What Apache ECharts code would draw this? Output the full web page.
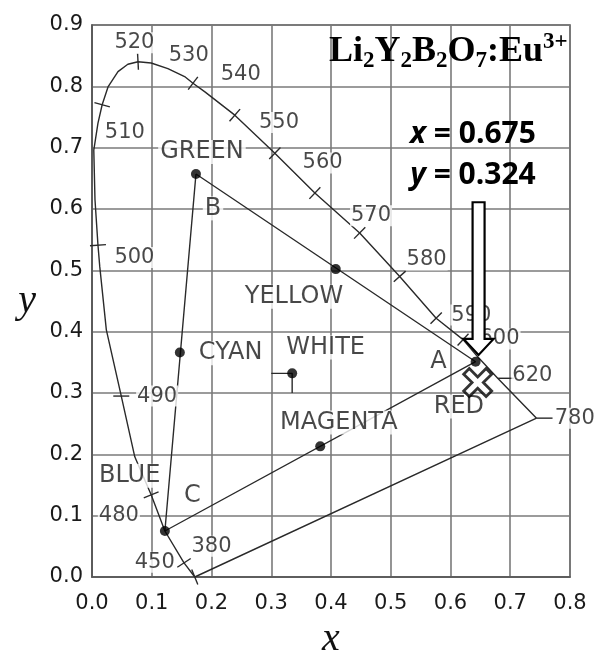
<!DOCTYPE html>
<html><head><meta charset="utf-8">
<script src="https://cdn.jsdelivr.net/npm/echarts@6/dist/echarts.min.js"></script>
<style>html,body{margin:0;padding:0;background:#fff}#c{width:603px;height:650px}</style>
</head><body><div id="c"></div><script>
// ---- tick labels ----
const X_TICK_LABELS = ['0.0','0.1','0.2','0.3','0.4','0.5','0.6','0.7','0.8'];
const Y_TICK_LABELS = ['0.0','0.1','0.2','0.3','0.4','0.5','0.6','0.7','0.8','0.9'];

// ---- spectral locus as drawn (380 nm -> 780 nm) ----
const LOCUS_X = [0.172,0.154,0.122,0.099,0.0716,0.049,0.024,0.013,0.010,0.005,0.003,0.010,0.017,0.0268,0.0435,0.060,0.077,0.099,0.127,0.155,0.169,0.189,0.239,0.306,0.373,0.448,0.515,0.576,0.621,0.6455,0.679,0.744];
const LOCUS_Y = [0.000,0.023,0.075,0.134,0.196,0.295,0.403,0.506,0.541,0.615,0.696,0.740,0.770,0.799,0.824,0.836,0.840,0.838,0.829,0.816,0.805,0.791,0.753,0.691,0.626,0.561,0.490,0.422,0.387,0.359,0.324,0.259];

// ---- wavelength marks on the locus ----
const TICK_WAVELENGTHS = [380,450,480,490,500,510,520,530,540,550,560,570,580,590,600,620,780];
const TICK_X = [0.172,0.154,0.099,0.049,0.010,0.017,0.077,0.169,0.239,0.306,0.373,0.448,0.515,0.576,0.621,0.679,0.744];
const TICK_Y = [0.000,0.023,0.134,0.295,0.541,0.770,0.840,0.805,0.753,0.691,0.626,0.561,0.490,0.422,0.387,0.324,0.259];
const WL_LABEL_X = [0.200,0.105,0.045,0.109,0.071,0.055,0.071,0.162,0.249,0.313,0.386,0.467,0.560,0.635,0.682,0.737,0.808];
const WL_LABEL_Y = [0.050,0.024,0.100,0.295,0.521,0.725,0.871,0.851,0.820,0.741,0.675,0.589,0.517,0.427,0.388,0.328,0.259];

// ---- colour points ----
const POINT_NAMES = ['GREEN','YELLOW','CYAN','WHITE','MAGENTA','A','BLUE'];
const POINT_X = [0.174,0.408,0.147,0.335,0.382,0.642,0.122];
const POINT_Y = [0.657,0.502,0.366,0.332,0.213,0.351,0.075];
const TRIANGLE = ['GREEN','A','BLUE','GREEN'];

// ---- region labels ----
const REGION_LABELS = ['GREEN','B','YELLOW','CYAN','WHITE','MAGENTA','A','RED','BLUE','C'];
const REGION_LABEL_X = [0.184,0.2025,0.338,0.232,0.391,0.413,0.580,0.614,0.063,0.168];
const REGION_LABEL_Y = [0.693,0.601,0.457,0.365,0.374,0.252,0.351,0.278,0.165,0.133];

// ---- sample (Li2Y2B2O7:Eu3+) ----
const SAMPLE_X = 0.6455, SAMPLE_Y = 0.317;
const SAMPLE_TEXT_X = '0.675', SAMPLE_TEXT_Y = '0.324';
const ARROW_X = 0.647, ARROW_TIP_Y = 0.362, ARROW_TOP_Y = 0.611;

const TICK_MODE = {490:'h', 620:'r', 780:'r'};
const INK = '#1a1a1a';

const pt = n => { const i = POINT_NAMES.indexOf(n); return [POINT_X[i], POINT_Y[i]]; };
const locusData = LOCUS_X.map((x,i)=>[x, LOCUS_Y[i]]);
locusData.push([LOCUS_X[0], LOCUS_Y[0]]);
const wIdx = POINT_NAMES.indexOf('WHITE');
const WX = POINT_X[wIdx], WY = POINT_Y[wIdx];

const chart = echarts.init(document.getElementById('c'), null, {renderer:'canvas'});
const lineBase = {type:'line', symbol:'none', silent:true, animation:false, lineStyle:{color:'#2a2a2a', width:1.4}, z:3};

chart.setOption({
  animation:false,
  grid:{left:92, right:33, top:25, bottom:73, show:true, borderColor:'#555', borderWidth:1.6,
        containLabel:false, outerBoundsMode:'none'},
  xAxis:{type:'value', min:0, max:0.8, interval:0.1,
    axisLine:{show:true, lineStyle:{color:'#555', width:1.6}}, axisTick:{show:false},
    axisLabel:{formatter:(v,i)=>X_TICK_LABELS[i], fontFamily:'DejaVu Sans', fontSize:21, color:INK, margin:16},
    splitLine:{show:true, lineStyle:{color:'#7a7a7a', width:1.6}},
    name:'x', nameLocation:'middle', nameGap:42,
    nameTextStyle:{fontFamily:'Liberation Serif', fontStyle:'italic', fontSize:40, color:'#111'}},
  yAxis:{type:'value', min:0, max:0.9, interval:0.1,
    axisLine:{show:true, lineStyle:{color:'#555', width:1.6}}, axisTick:{show:false},
    axisLabel:{formatter:(v,i)=>Y_TICK_LABELS[i], fontFamily:'DejaVu Sans', fontSize:21, color:INK, margin:9},
    splitLine:{show:true, lineStyle:{color:'#7a7a7a', width:1.6}},
    name:'y', nameLocation:'middle', nameGap:56, nameRotate:0,
    nameTextStyle:{fontFamily:'Liberation Serif', fontStyle:'italic', fontSize:40, color:'#111', padding:[18,0,0,0]}},
  graphic:[
    {type:'text', x:329, y:31, z:100, style:{
      text:'{m|Li}{s|2}{m|Y}{s|2}{m|B}{s|2}{m|O}{s|7}{m|:Eu}{p|3+}',
      align:'left', verticalAlign:'top',
      rich:{
        m:{fontFamily:'Liberation Serif', fontWeight:'bold', fontSize:36, lineHeight:42, fill:'#000'},
        s:{fontFamily:'Liberation Serif', fontWeight:'bold', fontSize:23, lineHeight:23, verticalAlign:'bottom', fill:'#000'},
        p:{fontFamily:'Liberation Serif', fontWeight:'bold', fontSize:23, lineHeight:31, verticalAlign:'top', fill:'#000'}
      }}},
    {type:'text', x:473, y:134, z:100, style:{
      text:'{i|x}{b| = '+SAMPLE_TEXT_X+'}', align:'center', verticalAlign:'middle',
      rich:{i:{fontFamily:'Open Sans', fontStyle:'italic', fontWeight:'bold', fontSize:30, fill:'#000'},
            b:{fontFamily:'Open Sans', fontWeight:'bold', fontSize:30, fill:'#000'}}}},
    {type:'text', x:473, y:175, z:100, style:{
      text:'{i|y}{b| = '+SAMPLE_TEXT_Y+'}', align:'center', verticalAlign:'middle',
      rich:{i:{fontFamily:'Open Sans', fontStyle:'italic', fontWeight:'bold', fontSize:30, fill:'#000'},
            b:{fontFamily:'Open Sans', fontWeight:'bold', fontSize:30, fill:'#000'}}}}
  ],
  series:[
    Object.assign({}, lineBase, {name:'locus', data:locusData}),
    Object.assign({}, lineBase, {name:'triangle', data:TRIANGLE.map(pt)}),
    Object.assign({}, lineBase, {name:'whiteGuide', data:[[0.3, WY],[WX, WY],[WX, 0.3]]}),
    {type:'custom', name:'ticks', silent:true, animation:false, z:3,
      data:TICK_X.map((x,i)=>[x, TICK_Y[i]]), encode:{x:0,y:1},
      renderItem:(params, api)=>{
        const i = params.dataIndex;
        const p = api.coord([TICK_X[i], TICK_Y[i]]);
        const mode = TICK_MODE[TICK_WAVELENGTHS[i]] || 'n';
        const L = 8; let x1,y1,x2,y2;
        if (mode==='h'){ x1=p[0]-L; x2=p[0]+L; y1=y2=p[1]; }
        else if (mode==='r'){ x1=p[0]; x2=p[0]+2*L; y1=y2=p[1]; }
        else {
          let k=0, best=Infinity;
          for (let j=0;j<LOCUS_X.length;j++){
            const d=(LOCUS_X[j]-TICK_X[i])**2+(LOCUS_Y[j]-TICK_Y[i])**2;
            if(d<best){best=d;k=j;}
          }
          const n = LOCUS_X.length;
          const a = api.coord(k>0?[LOCUS_X[k-1],LOCUS_Y[k-1]]:[LOCUS_X[n-1],LOCUS_Y[n-1]]);
          const b = api.coord(k<n-1?[LOCUS_X[k+1],LOCUS_Y[k+1]]:[LOCUS_X[0],LOCUS_Y[0]]);
          let tx=b[0]-a[0], ty=b[1]-a[1]; const len=Math.hypot(tx,ty); tx/=len; ty/=len;
          const nx=-ty, ny=tx;
          x1=p[0]-nx*L; y1=p[1]-ny*L; x2=p[0]+nx*L; y2=p[1]+ny*L;
        }
        return {type:'line', shape:{x1,y1,x2,y2}, style:{stroke:'#2a2a2a', lineWidth:1.4}};
      }},
    {type:'scatter', name:'points', silent:true, animation:false, z:4, symbolSize:10,
      itemStyle:{color:'#000'}, data:POINT_X.map((x,i)=>[x, POINT_Y[i]])},
    {type:'scatter', name:'wlLabels', silent:true, animation:false, z:5, clip:false, symbolSize:1,
      itemStyle:{color:'rgba(0,0,0,0)'},
      data:WL_LABEL_X.map((x,i)=>({value:[x, WL_LABEL_Y[i]], name:String(TICK_WAVELENGTHS[i])})),
      label:{show:true, position:'inside', formatter:'{b}', fontFamily:'DejaVu Sans', fontSize:21,
        color:INK, backgroundColor:'#fff', padding:[0,1]}},
    {type:'scatter', name:'regionLabels', silent:true, animation:false, z:5, symbolSize:1,
      itemStyle:{color:'rgba(0,0,0,0)'},
      data:REGION_LABEL_X.map((x,i)=>({value:[x, REGION_LABEL_Y[i]], name:REGION_LABELS[i]})),
      label:{show:true, position:'inside', formatter:'{b}', fontFamily:'DejaVu Sans', fontSize:24,
        color:INK, backgroundColor:'#fff', padding:[0,2]}},
    {type:'custom', name:'arrow', silent:true, animation:false, z:20,
      data:[[ARROW_X, ARROW_TIP_Y, ARROW_TOP_Y]], encode:{x:0,y:1},
      renderItem:(params, api)=>{
        const tip = api.coord([api.value(0), api.value(1)]);
        const top = api.coord([api.value(0), api.value(2)]);
        const cx = tip[0], hw=6, hh=15, hl=16;
        return {type:'polygon', shape:{points:[[cx-hw,top[1]],[cx+hw,top[1]],[cx+hw,tip[1]-hl],[cx+hh,tip[1]-hl],[cx,tip[1]],[cx-hh,tip[1]-hl],[cx-hw,tip[1]-hl]]},
          style:{fill:'#fff', stroke:'#000', lineWidth:2.2}};
      }},
    {type:'scatter', name:'sample', silent:true, animation:false, z:21, symbolSize:28,
      symbol:'path://M2,0 L5,3 L8,0 L10,2 L7,5 L10,8 L8,10 L5,7 L2,10 L0,8 L3,5 L0,2 Z',
      itemStyle:{color:'#fff', borderColor:'#000', borderWidth:2.8},
      data:[[SAMPLE_X, SAMPLE_Y]]}
  ]
});
</script></body></html>
